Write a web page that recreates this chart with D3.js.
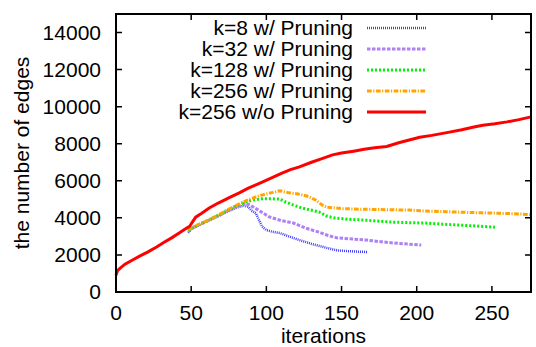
<!DOCTYPE html>
<html>
<head>
<meta charset="utf-8">
<script src="https://cdn.jsdelivr.net/npm/d3@7"></script>
<style>
  body { margin: 0; background: #fff; }
  svg { display: block; font-family: "Liberation Sans", Arial, sans-serif; }
</style>
</head>
<body>
<svg id="chart" width="536" height="347"></svg>
<script>
// series: [iteration, number of edges]
const k8 = [[48,3200],[50,3400],[55,3600],[60,3800],[67,4050],[73,4300],[80,4550],[85,4650],[88,4600],[90,4400],[93,4250],[95,3900],[97,3550],[100,3340],[104,3250],[109,3180],[115,3000],[122,2800],[130,2600],[140,2380],[147,2250],[153,2210],[160,2180],[167,2160]];
const k32 = [[48,3300],[50,3420],[55,3620],[60,3800],[67,4080],[73,4330],[80,4600],[86,4800],[89,4700],[92,4550],[96,4350],[102,4050],[110,3850],[118,3720],[126,3450],[135,3230],[141,3050],[147,2920],[155,2870],[167,2800],[175,2720],[184,2650],[195,2580],[203,2530]];
const k128 = [[48,3300],[50,3420],[55,3620],[60,3820],[67,4100],[73,4350],[80,4650],[87,4880],[92,4980],[97,5030],[103,5030],[109,5010],[113,4850],[118,4690],[123,4550],[127,4470],[135,4320],[140,4100],[145,4000],[155,3920],[165,3880],[175,3820],[184,3770],[195,3740],[206,3720],[218,3660],[228,3610],[240,3560],[252,3500]];
const k256 = [[48,3350],[50,3450],[55,3650],[60,3830],[67,4100],[73,4380],[80,4680],[87,4950],[92,5100],[97,5230],[103,5350],[109,5460],[115,5350],[122,5280],[128,5150],[133,4950],[137,4700],[140,4580],[150,4500],[162,4470],[175,4450],[195,4420],[206,4370],[220,4330],[235,4290],[250,4260],[262,4230],[276,4180]];
const k256np = [[0,900],[1,1150],[3,1300],[6,1500],[11,1730],[16,1950],[21,2150],[27,2430],[32,2680],[37,2920],[42,3180],[46,3400],[49,3550],[51,3800],[53,4040],[57,4250],[62,4530],[68,4800],[76,5120],[82,5350],[88,5600],[95,5850],[102,6100],[110,6400],[116,6600],[122,6750],[130,7000],[137,7200],[144,7400],[150,7500],[158,7600],[165,7700],[172,7780],[180,7850],[188,8050],[195,8200],[202,8350],[210,8450],[220,8600],[230,8750],[238,8900],[244,9000],[252,9080],[260,9180],[268,9300],[276,9450]];

const labels = ["k=8 w/ Pruning", "k=32 w/ Pruning", "k=128 w/ Pruning", "k=256 w/ Pruning", "k=256 w/o Pruning"];
const xTicks = [0, 50, 100, 150, 200, 250];
const yTicks = [0, 2000, 4000, 6000, 8000, 10000, 12000, 14000];

const series = [
  { data: k8, color: "#3f3fff", width: 2.5, dash: "1,1" },
  { data: k32, color: "#ae82f5", width: 3, dash: "3.5,1.5" },
  { data: k128, color: "#00f000", width: 3, dash: "2,2" },
  { data: k256, color: "#ffa500", width: 3, dash: "4.7,1.5,1.2,1.5" },
  { data: k256np, color: "#ff0000", width: 3, dash: null }
];

const svg = d3.select("#chart");
const mLeft = 116, mRight = 531, mTop = 14, mBottom = 292;

const x = d3.scaleLinear().domain([0, 276]).range([mLeft, mRight]);
const y = d3.scaleLinear().domain([0, 15000]).range([mBottom, mTop]);

const fs = 21;

// ticks, all four sides, inward
const tl = 6;
const g = svg.append("g");
g.selectAll(".xt").data(xTicks).enter().append("path")
  .attr("d", d => `M${x(d)},${mBottom}V${mBottom - tl}M${x(d)},${mTop}V${mTop + tl}`)
  .attr("stroke", "#000").attr("stroke-width", 1.5);
g.selectAll(".yt").data(yTicks).enter().append("path")
  .attr("d", d => `M${mLeft},${y(d)}H${mLeft + tl}M${mRight},${y(d)}H${mRight - tl}`)
  .attr("stroke", "#000").attr("stroke-width", 1.5);

g.selectAll(".xl").data(xTicks).enter().append("text")
  .attr("x", d => x(d)).attr("y", mBottom + 28)
  .attr("text-anchor", "middle").attr("font-size", fs)
  .text(d => d);
g.selectAll(".yl").data(yTicks).enter().append("text")
  .attr("x", mLeft - 15).attr("y", d => y(d) + 7)
  .attr("text-anchor", "end").attr("font-size", fs)
  .text(d => d);

svg.append("text")
  .attr("x", (mLeft + mRight) / 2).attr("y", 343)
  .attr("text-anchor", "middle").attr("font-size", fs)
  .text("iterations");
svg.append("text")
  .attr("transform", `translate(29,${(mTop + mBottom) / 2}) rotate(-90)`)
  .attr("text-anchor", "middle").attr("font-size", fs)
  .text("the number of edges");

// lines
const line = d3.line().x(d => x(d[0])).y(d => y(d[1]));
series.forEach(s => {
  svg.append("path")
    .datum(s.data)
    .attr("d", line)
    .attr("fill", "none")
    .attr("stroke", s.color)
    .attr("stroke-width", s.width)
    .attr("stroke-dasharray", s.dash);
});

// frame
svg.append("rect")
  .attr("x", mLeft).attr("y", mTop)
  .attr("width", mRight - mLeft).attr("height", mBottom - mTop)
  .attr("fill", "none").attr("stroke", "#000").attr("stroke-width", 2);

// legend
const leg = svg.append("g");
series.forEach((s, i) => {
  const ly = 28 + i * 21;
  leg.append("text")
    .attr("x", 353).attr("y", ly + 7)
    .attr("text-anchor", "end").attr("font-size", fs)
    .text(labels[i]);
  leg.append("line")
    .attr("x1", 367).attr("x2", 426)
    .attr("y1", ly).attr("y2", ly)
    .attr("stroke", s.color)
    .attr("stroke-width", s.width)
    .attr("stroke-dasharray", s.dash);
});
</script>
</body>
</html>
